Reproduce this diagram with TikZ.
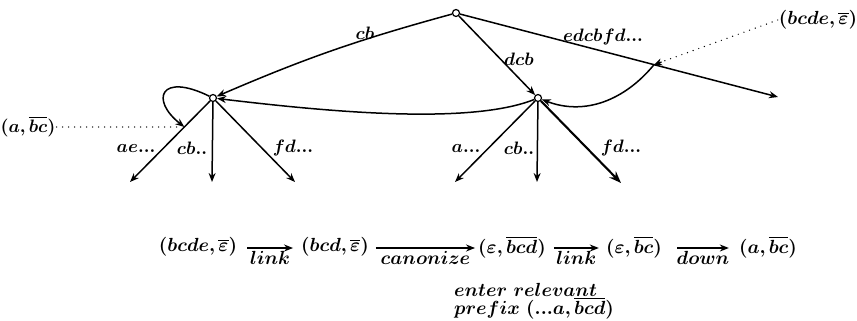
\documentclass[tikz,border=0pt]{standalone}
\usepackage{bm}
\usetikzlibrary{arrows.meta,calc}
\newcommand{\mlab}[1]{\scalebox{1.8}{$\bm{#1}$}}
\newcommand{\blab}[1]{\scalebox{1.9}{$\bm{#1}$}}
\begin{document}
\begin{tikzpicture}[x=1pt,y=-1pt,
  vert/.style={circle,draw,fill=white,inner sep=0pt,minimum size=7pt,line width=1.2pt},
  edge/.style={line width=1.5pt,-{Stealth[length=9pt,width=7pt]}},
  bigedge/.style={line width=2.1pt,-{Stealth[length=12pt,width=9pt]}},
  dots/.style={line width=1.4pt,line cap=round,dash pattern=on 0pt off 6pt},
  lbl/.style={inner sep=1pt}]
\useasboundingbox (0,0) rectangle (857,321);
% vertices
\node[vert] (root) at (456,13) {};
\node[vert] (left) at (213,98) {};
\node[vert] (right) at (538,98) {};
% leaf ends
\coordinate (edc) at (778,97);
\coordinate (lae) at (130,182);
\coordinate (lcb) at (212,182);
\coordinate (lfd) at (295,182);
\coordinate (ra) at (455,182);
\coordinate (rcb) at (537,182);
\coordinate (rfd) at (621,183);
% top edges
\draw[edge] (root) to[bend right=4] (left);
\draw[edge] (root) -- (right);
\draw[edge] (root) -- (edc);
\node[lbl] (tcb) at (365,33) {\mlab{cb}};
\node[lbl] (tdcb) at (519,59) {\mlab{dcb}};
\node[lbl] (tedc) at (603,37) {\mlab{edcbfd...}};
% children
\draw[edge] (left) -- (lae);
\draw[edge] (left) -- (lcb);
\draw[edge] (left) -- (lfd);
\draw[edge] (right) -- (ra);
\draw[edge] (right) -- (rcb);
\draw[bigedge] (right) -- (rfd);
\node[lbl] (cae) at (136,148) {\mlab{ae...}};
\node[lbl] (ccb1) at (192,148) {\mlab{cb..}};
\node[lbl] (cfd1) at (293,148) {\mlab{fd...}};
\node[lbl] (ca) at (466,148) {\mlab{a...}};
\node[lbl] (ccb2) at (519,148) {\mlab{cb..}};
\node[lbl] (cfd2) at (621,148) {\mlab{fd...}};
% suffix-link path
\coordinate (P) at ($(root)!0.615!(edc)$);
\coordinate (Q) at ($(left)!0.345!(lae)$);
\node[lbl] (s1) at (818,20) {\blab{(bcde,\overline{\varepsilon})}};
\node[lbl] (s2) at (28,127) {\mlab{(a,\overline{bc})}};
\draw[dots] (s1.west) -- (P);
\draw[-{Stealth[length=8pt,width=7pt]},line width=1.2pt] ($(P)!8pt!(s1.west)$) -- (P);
\draw[edge] (P) .. controls (625,100) and (585,116) .. (right);
\draw[edge] (right) .. controls (470,125) and (330,112) .. (left);
\draw[edge] (left) .. controls (160,72) and (150,100) .. (Q);
\draw[dots] (s2.east) -- ([xshift=-6pt]Q);
% bottom row
\node[lbl] (b1) at (198,247) {\blab{(bcde,\overline{\varepsilon})}};
\node[lbl] (b2) at (335,247) {\blab{(bcd,\overline{\varepsilon})}};
\node[lbl] (b3) at (512,247) {\blab{(\varepsilon,\overline{bcd})}};
\node[lbl] (b4) at (634,247) {\blab{(\varepsilon,\overline{bc})}};
\node[lbl] (b5) at (768,247) {\blab{(a,\overline{bc})}};
\draw[edge] ([xshift=9pt,yshift=-1pt]b1.east) -- node[below=1.5pt,lbl] {\blab{link}} ([xshift=-7pt,yshift=-1pt]b2.west);
\draw[edge] ([xshift=6pt,yshift=-1pt]b2.east) -- node[below=1.5pt,lbl] {\blab{canonize}} ([xshift=-2pt,yshift=-1pt]b3.west);
\draw[edge] ([xshift=7pt,yshift=-1pt]b3.east) -- node[below=1.5pt,lbl] {\blab{link}} ([xshift=-6pt,yshift=-1pt]b4.west);
\draw[edge] ([xshift=14pt,yshift=-1pt]b4.east) -- node[below=1.5pt,lbl] {\blab{down}} ([xshift=-9pt,yshift=-1pt]b5.west);
\node[lbl,anchor=west] (note1) at (453,290) {\blab{enter\ relevant}};
\node[lbl,anchor=west] (note2) at (453,308) {\blab{prefix\ (...a,\overline{bcd})}};
\end{tikzpicture}
\end{document}
